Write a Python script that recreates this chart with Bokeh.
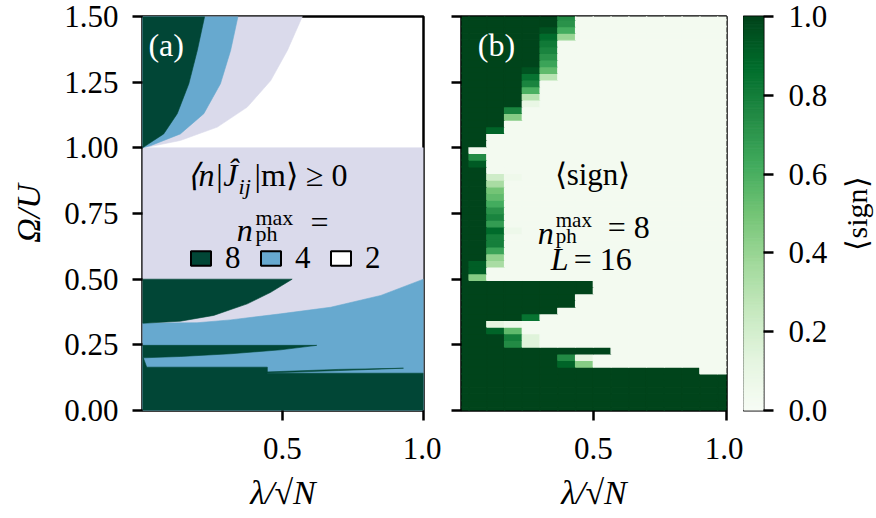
import numpy as np
from bokeh.plotting import figure
from bokeh.models import (Range1d, FixedTicker, PrintfTickFormatter, CustomJSTickFormatter,
                          ColumnDataSource, Label, Legend, LegendItem)
from bokeh.layouts import row
from bokeh.transform import linear_cmap
from bokeh.embed import file_html
from bokeh.resources import INLINE

FONT = "Liberation Serif"

# ---------------- axes ----------------
lam_range = (0.005, 1.0)
omega_range = (0.0, 1.5)
omega_ticks = [0.0, 0.25, 0.5, 0.75, 1.0, 1.25, 1.5]
lam_ticks = [0.5, 1.0]
sign_ticks = [0.0, 0.2, 0.4, 0.6, 0.8, 1.0]

# ------------- panel (a): regions where <n|J|m> >= 0 -------------
col_n2 = "#dadaeb"
col_n4 = "#67a9cf"
col_n8 = "#014636"
# upper branches (Omega/U > 1): right-hand boundary of each region
up8_lam = [0.005, 0.080, 0.128, 0.169, 0.199, 0.225]
up8_om = [1.0, 1.053, 1.130, 1.244, 1.371, 1.5]
up4_lam = [0.005, 0.033, 0.139, 0.222, 0.281, 0.317, 0.343]
up4_om = [1.0, 1.008, 1.053, 1.130, 1.244, 1.371, 1.5]
up2_lam = [0.005, 0.033, 0.139, 0.270, 0.376, 0.459, 0.518, 0.571]
up2_om = [1.0, 1.005, 1.028, 1.079, 1.155, 1.256, 1.371, 1.5]
# lower branches (Omega/U <= 1)
low2_top = 1.0
low4_lam = [1.0, 0.849, 0.671, 0.494, 0.317, 0.198, 0.005]
low4_om = [0.5, 0.438, 0.393, 0.368, 0.345, 0.334, 0.333]
low8a_lam = [0.005, 0.535, 0.459, 0.376, 0.257, 0.139, 0.005]
low8a_om = [0.5, 0.5, 0.450, 0.406, 0.362, 0.340, 0.332]
low8b_lam = [0.005, 0.622, 0.494, 0.317, 0.139, 0.005]
low8b_om = [0.248, 0.248, 0.231, 0.216, 0.2056, 0.2005]
low8c_lam = [0.005, 1.0, 1.0, 0.447, 0.447, 0.020, 0.008, 0.005]
low8c_om = [0.0, 0.0, 0.142, 0.142, 0.165, 0.165, 0.200, 0.200]
low8d_lam = [0.441, 0.700, 0.929, 0.700, 0.441]
low8d_om = [0.1465, 0.1565, 0.161, 0.152, 0.1425]

# ------------- panel (b): <sign>, n_ph^max = 8, L = 16 -------------
sign_lam = np.linspace(0.0, 1.0, 16)
sign_om = np.linspace(0.0, 1.5, 60)
sign_background = 0.03
# number of leading lambda-cells with <sign> = 1 in each Omega row (bottom to top)
sign_dark_cols = [16, 16, 16, 16, 16, 16, 14, 6, 6, 9,
                  3, 3, 2, 2, 4, 6, 7, 7, 8, 8,
                  1, 1, 1, 2, 2, 2, 2, 2, 2, 2,
                  2, 2, 2, 2, 2, 2, 2, 1, 1, 1,
                  2, 2, 2, 3, 3, 3, 4, 4, 4, 4,
                  4, 4, 5, 5, 5, 5, 5, 5, 6, 6]
# intermediate values (row, column): <sign>
sign_partial = {
    (7, 6): 0.90, (7, 7): 0.45, (8, 6): 0.75, (8, 7): 0.12,
    (10, 3): 0.75, (10, 4): 0.15, (11, 3): 0.80, (11, 4): 0.15,
    (12, 2): 0.90, (12, 3): 0.55, (13, 2): 0.12, (13, 3): 0.06,
    (14, 4): 0.85, (20, 1): 0.45, (21, 1): 0.92, (22, 1): 0.92, (22, 2): 0.35,
    (23, 2): 0.42, (24, 2): 0.65, (25, 2): 0.80, (26, 2): 0.80, (27, 2): 0.88,
    (27, 3): 0.07, (28, 2): 0.68, (29, 2): 0.78, (30, 2): 0.72, (31, 2): 0.62,
    (32, 2): 0.55, (33, 2): 0.50, (34, 2): 0.35, (35, 2): 0.22, (35, 3): 0.06,
    (37, 1): 0.93, (38, 1): 0.75, (42, 2): 0.90, (44, 3): 0.45, (45, 3): 0.78,
    (46, 4): 0.10, (47, 4): 0.30, (48, 4): 0.60, (49, 4): 0.78, (50, 4): 0.85,
    (50, 5): 0.30, (51, 4): 0.95, (51, 5): 0.55, (52, 5): 0.65, (53, 5): 0.72,
    (54, 5): 0.78, (55, 5): 0.82, (56, 5): 0.88, (56, 6): 0.40, (57, 5): 0.95,
    (57, 6): 0.62, (58, 6): 0.72, (59, 6): 0.75,
}

# Greens colour map (light -> dark)
greens_nodes = ["#f7fcf5", "#e5f5e0", "#c7e9c0", "#a1d99b", "#74c476",
                "#41ab5d", "#238b45", "#006d2c", "#00441b"]


def make_palette(nodes, n=256):
    rgb = np.array([[int(c[i:i + 2], 16) for i in (1, 3, 5)] for c in nodes], float)
    t = np.linspace(0, len(nodes) - 1, n)
    out = []
    for v in t:
        k = min(int(v), len(nodes) - 2)
        f = v - k
        c = rgb[k] * (1 - f) + rgb[k + 1] * f
        out.append("#%02x%02x%02x" % tuple(int(round(x)) for x in c))
    return out


palette = make_palette(greens_nodes)

H = 518
TICK_FS = "31px"
TEXT_FS = 32


def style(p):
    p.outline_line_color = "black"
    p.outline_line_width = 2.5
    p.background_fill_color = "white"
    p.border_fill_color = "white"
    p.xgrid.visible = False
    p.ygrid.visible = False
    for ax in p.axis:
        ax.axis_line_color = None
        ax.major_tick_out = 10
        ax.major_tick_in = 0
        ax.major_tick_line_width = 2.5
        ax.major_tick_line_color = "black"
        ax.minor_tick_line_color = None
        ax.major_label_text_font = FONT
        ax.major_label_text_font_size = TICK_FS
        ax.major_label_text_color = "black"
        ax.axis_label_text_font = FONT
        ax.axis_label_text_font_size = "34px"
        ax.axis_label_text_font_style = "italic"
        ax.axis_label_text_color = "black"


def add_text(p, x, y, text, size=TEXT_FS, align="left", baseline="middle",
             style_="normal", color="black", angle=0.0):
    p.add_layout(Label(x=x, y=y, text=text, text_font=FONT,
                       text_font_size=f"{size}px", text_align=align,
                       text_baseline=baseline, text_font_style=style_,
                       text_color=color, angle=angle))


# ======================= panel (a) =======================
fa = figure(width=441, height=H, x_range=Range1d(*lam_range), y_range=Range1d(*omega_range),
            output_backend="svg", toolbar_location=None,
            min_border_left=142, min_border_right=18, min_border_top=16, min_border_bottom=108)

x0 = lam_range[0]
x1 = lam_range[1]
ytop = omega_range[1]
patch_xs = [
    [x0, x1, x1, x0],                       # n=2 lower
    up2_lam + [x0],                          # n=2 upper
    up4_lam + [x0],                          # n=4 upper
    up8_lam + [x0],                          # n=8 upper
    [x0, x1] + low4_lam,                     # n=4 lower
    low8a_lam, low8b_lam, low8c_lam, low8d_lam,
]
patch_ys = [
    [omega_range[0], omega_range[0], low2_top, low2_top],
    up2_om + [ytop],
    up4_om + [ytop],
    up8_om + [ytop],
    [omega_range[0], omega_range[0]] + low4_om,
    low8a_om, low8b_om, low8c_om, low8d_om,
]
patch_cols = [col_n2, col_n2, col_n4, col_n8, col_n4, col_n8, col_n8, col_n8, col_n8]
fa.patches(xs="xs", ys="ys", fill_color="c", line_color="c", line_width=0.6,
           source=ColumnDataSource(dict(xs=patch_xs, ys=patch_ys, c=patch_cols)))

style(fa)
fa.xaxis.ticker = FixedTicker(ticks=lam_ticks)
fa.xaxis.formatter = PrintfTickFormatter(format="%.1f")
fa.yaxis.ticker = FixedTicker(ticks=omega_ticks)
fa.yaxis.formatter = PrintfTickFormatter(format="%.2f")
fa.xaxis.axis_label = "λ/√N"
fa.yaxis.axis_label = "Ω/U"
fa.xaxis.major_label_standoff = 17
fa.xaxis.axis_label_standoff = 12
fa.yaxis.major_label_standoff = 14
fa.yaxis.axis_label_standoff = 14

# legend with placeholder (NaN, never drawn) renderers
nan_src = lambda: ColumnDataSource(dict(left=[np.nan], right=[np.nan], top=[np.nan], bottom=[np.nan]))
r8 = fa.quad(source=nan_src(), fill_color=col_n8, line_color="black", line_width=2)
r4 = fa.quad(source=nan_src(), fill_color=col_n4, line_color="black", line_width=2)
r2 = fa.quad(source=nan_src(), fill_color="white", line_color="black", line_width=2)
leg = Legend(items=[LegendItem(label="8", renderers=[r8]),
                    LegendItem(label="4", renderers=[r4]),
                    LegendItem(label="2", renderers=[r2])],
             orientation="horizontal", location=(46, 134),
             glyph_width=25, glyph_height=18, label_standoff=12, label_width=16,
             spacing=17, padding=0, margin=0,
             background_fill_alpha=0, border_line_alpha=0,
             label_text_font=FONT, label_text_font_size="31px", label_text_color="black")
fa.add_layout(leg)

add_text(fa, 0.026, 1.393, "(a)", color="white")
add_text(fa, 0.3415, 0.895, "⟨n|Ĵ", align="right", style_="italic")
add_text(fa, 0.345, 0.853, "ij", size=22, baseline="alphabetic", style_="italic")
add_text(fa, 0.402, 0.895, "|m⟩  ≥  0")
add_text(fa, 0.395, 0.689, "n", align="right", baseline="alphabetic", style_="italic")
add_text(fa, 0.405, 0.735, "max", size=22, baseline="alphabetic")
add_text(fa, 0.405, 0.674, "ph", size=22, baseline="alphabetic")
add_text(fa, 0.600, 0.716, "=")

# ======================= panel (b) =======================
fb = figure(width=302, height=H, x_range=Range1d(*lam_range), y_range=Range1d(*omega_range),
            output_backend="svg", toolbar_location=None,
            min_border_left=20, min_border_right=17, min_border_top=16, min_border_bottom=108)

grid = np.full((len(sign_om), len(sign_lam)), sign_background)
for k, n in enumerate(sign_dark_cols):
    grid[k, :n] = 1.0
for (k, j), v in sign_partial.items():
    grid[k, j] = v
dx = (sign_lam[1] - sign_lam[0]) / 2
dy = (sign_om[1] - sign_om[0]) / 2
LL, OO = np.meshgrid(sign_lam, sign_om)
cells = ColumnDataSource(dict(left=(LL - dx).ravel(), right=(LL + dx).ravel(),
                              bottom=(OO - dy).ravel(), top=(OO + dy).ravel(),
                              sign=grid.ravel()))
cmap = linear_cmap("sign", palette, 0.0, 1.0)
fb.quad(left="left", right="right", bottom="bottom", top="top", source=cells,
        fill_color=cmap, line_color=cmap, line_width=1.3)

style(fb)
fb.xaxis.ticker = FixedTicker(ticks=lam_ticks)
fb.xaxis.formatter = PrintfTickFormatter(format="%.1f")
fb.yaxis.ticker = FixedTicker(ticks=omega_ticks)
fb.yaxis.formatter = CustomJSTickFormatter(code="return ''")
fb.yaxis.major_label_standoff = 0
fb.xaxis.axis_label = "λ/√N"
fb.xaxis.major_label_standoff = 17
fb.xaxis.axis_label_standoff = 12

add_text(fb, 0.066, 1.393, "(b)", color="white")
add_text(fb, 0.497, 0.898, "⟨sign⟩", size=31, align="center")
add_text(fb, 0.351, 0.676, "n", align="right", baseline="alphabetic", style_="italic")
add_text(fb, 0.359, 0.724, "max", size=21, baseline="alphabetic")
add_text(fb, 0.359, 0.664, "ph", size=21, baseline="alphabetic")
add_text(fb, 0.554, 0.700, "= 8")
add_text(fb, 0.340, 0.578, "L", style_="italic")
add_text(fb, 0.4265, 0.578, "= 16")

# ======================= colour bar =======================
fc = figure(width=90, height=H, x_range=Range1d(0, 1), y_range=Range1d(0, 1),
            output_backend="svg", toolbar_location=None,
            x_axis_location=None, y_axis_location="right",
            min_border_left=0, min_border_right=70, min_border_top=16, min_border_bottom=108)
nb = len(palette)
edges = np.linspace(0, 1, nb + 1)
fc.quad(left=0, right=1, bottom=edges[:-1], top=edges[1:],
        fill_color=palette, line_color=palette, line_width=1)
style(fc)
fc.outline_line_width = 2
fc.yaxis.ticker = FixedTicker(ticks=sign_ticks)
fc.yaxis.formatter = PrintfTickFormatter(format="%.1f")
fc.yaxis.major_label_standoff = 15

# colour-bar title in its own strip
fd = figure(width=43, height=H, x_range=Range1d(0, 1), y_range=Range1d(0, 1),
            output_backend="svg", toolbar_location=None,
            x_axis_location=None, y_axis_location=None,
            min_border_left=0, min_border_right=0, min_border_top=16, min_border_bottom=108)
fd.outline_line_color = None
fd.xgrid.visible = False
fd.ygrid.visible = False
add_text(fd, 0.53, 0.5, "⟨sign⟩", size=30, align="center", angle=np.pi / 2)

layout = row(fa, fb, fc, fd)
open("out.html", "w").write(file_html(layout, INLINE))
